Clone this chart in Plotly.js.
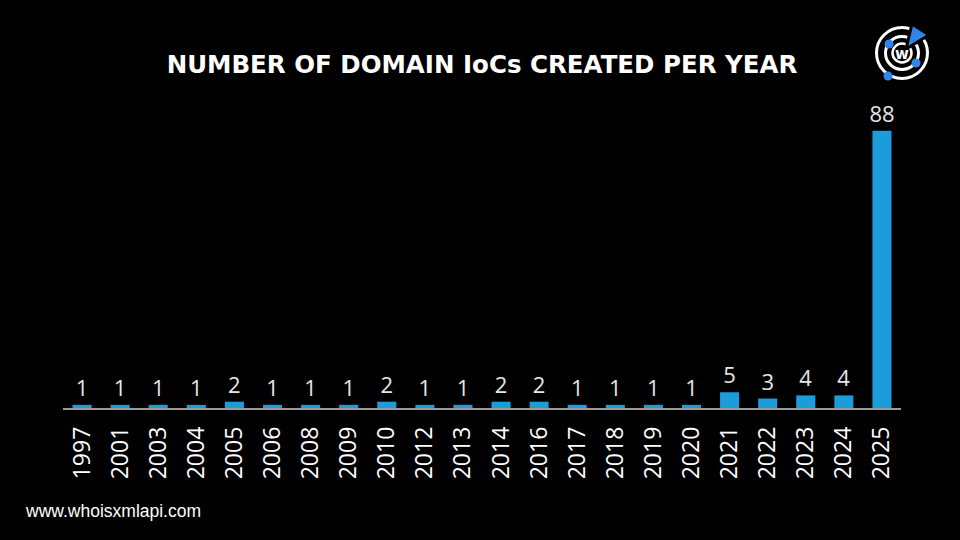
<!DOCTYPE html>
<html>
<head>
<meta charset="utf-8">
<script src="https://cdn.plot.ly/plotly-3.0.1.min.js"></script>
<style>html,body{margin:0;padding:0;background:#000;}#chart{width:960px;height:540px;}</style>
</head>
<body>
<div id="chart"></div>
<script>
const years = ["1997","2001","2003","2004","2005","2006","2008","2009","2010","2012","2013","2014","2016","2017","2018","2019","2020","2021","2022","2023","2024","2025"];
const counts = [1,1,1,1,2,1,1,1,2,1,1,2,2,1,1,1,1,5,3,4,4,88];
const chartTitle = "NUMBER OF DOMAIN IoCs CREATED PER YEAR";
const footerText = "www.whoisxmlapi.com";

// plot area in pixels: x 63..901, y 100..408
const L = 63, R = 901, T = 100, B = 408;
const px = x => (x - L) / (R - L);
const py = y => (B - y) / (B - T);
function circ(cx, cy, r, opts) {
  return Object.assign({type:'circle', xref:'paper', yref:'paper',
    x0: px(cx - r), x1: px(cx + r), y0: py(cy + r), y1: py(cy - r)}, opts);
}
const lc = 902, lcy = 53;
const blue = '#2f86e8';
const shapes = [
  circ(lc, lcy, 25.5, {line:{color:'#ffffff', width:3}}),
  circ(lc, lcy, 16.5, {line:{color:'#ffffff', width:3}}),
  circ(lc, lcy, 9.5, {line:{color:'#ffffff', width:2.5}}),
  circ(888, 76, 4.5, {fillcolor:blue, line:{width:0}}),
  circ(889, 44, 4.5, {fillcolor:blue, line:{width:0}}),
  circ(916, 63, 4.5, {fillcolor:blue, line:{width:0}}),
  {type:'path', xref:'paper', yref:'paper', fillcolor:blue, line:{color:'#000000', width:3},
   path: `M ${px(912)} ${py(24)} L ${px(929)} ${py(35)} L ${px(906)} ${py(49)} Z`}
];

const data = [{
  type: 'bar',
  x: years,
  y: counts,
  text: counts.map(String),
  textposition: 'outside',
  constraintext: 'none',
  cliponaxis: false,
  textfont: {family: 'Open Sans, sans-serif', size: 22, color: '#e6e6e6'},
  marker: {color: '#1b9cdb'},
  hoverinfo: 'skip'
}];

const layout = {
  width: 960, height: 540,
  paper_bgcolor: '#000000', plot_bgcolor: '#000000',
  margin: {l: L, r: 960 - R, t: T, b: 540 - B},
  bargap: 0.5,
  showlegend: false,
  title: {text: '<b>' + chartTitle + '</b>', x: 0.5, xref: 'paper', xanchor: 'center',
          y: 1 - 64/540, yref: 'container', yanchor: 'middle',
          font: {family: 'DejaVu Sans, sans-serif', size: 24.5, color: '#ffffff'}},
  xaxis: {type: 'category', tickangle: -90, showgrid: false, zeroline: false,
          showline: true, linecolor: '#9a9a9a', linewidth: 1.5, ticks: '',
          ticklabelstandoff: 8,
          tickfont: {family: 'Open Sans, sans-serif', size: 23, color: '#ffffff'}},
  yaxis: {range: [0, 97.8], visible: false, showgrid: false, zeroline: false},
  shapes: shapes,
  annotations: [
    {text: '<b>w</b>', xref:'paper', yref:'paper', x: px(lc), y: py(lcy+0.5), showarrow:false,
     xanchor:'center', yanchor:'middle', font:{family:'DejaVu Sans, sans-serif', size:15, color:'#ffffff'}},
    {text: footerText, xref:'paper', yref:'paper', x: px(23), y: py(511), showarrow:false,
     xanchor:'left', yanchor:'middle', font:{family:'Liberation Sans, Arial, sans-serif', size:17.5, color:'#ffffff'}}
  ]
};

Plotly.newPlot('chart', data, layout, {staticPlot: true, displayModeBar: false});
</script>
</body>
</html>
